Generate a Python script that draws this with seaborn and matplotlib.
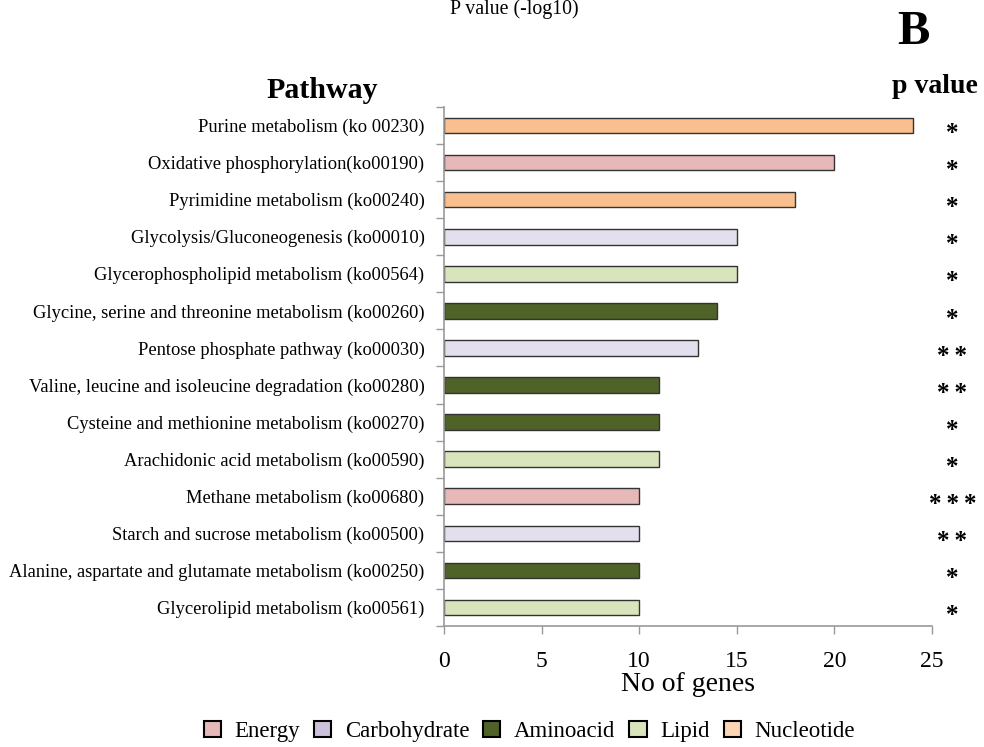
import matplotlib
matplotlib.use("Agg")
import matplotlib.pyplot as plt
import seaborn as sns
import pandas as pd
from matplotlib.patches import Patch

pathways = [
    "Purine metabolism (ko 00230)",
    "Oxidative phosphorylation(ko00190)",
    "Pyrimidine metabolism (ko00240)",
    "Glycolysis/Gluconeogenesis (ko00010)",
    "Glycerophospholipid metabolism (ko00564)",
    "Glycine, serine and threonine metabolism (ko00260)",
    "Pentose phosphate pathway (ko00030)",
    "Valine, leucine and isoleucine degradation (ko00280)",
    "Cysteine and methionine metabolism (ko00270)",
    "Arachidonic acid metabolism (ko00590)",
    "Methane metabolism (ko00680)",
    "Starch and sucrose metabolism (ko00500)",
    "Alanine, aspartate and glutamate metabolism (ko00250)",
    "Glycerolipid metabolism (ko00561)",
]
gene_counts = [24, 20, 18, 15, 15, 14, 13, 11, 11, 11, 10, 10, 10, 10]
classes = ["Nucleotide", "Energy", "Nucleotide", "Carbohydrate", "Lipid",
           "Aminoacid", "Carbohydrate", "Aminoacid", "Aminoacid", "Lipid",
           "Energy", "Carbohydrate", "Aminoacid", "Lipid"]
significance = ["*", "*", "*", "*", "*", "*", "**", "**", "*", "*",
                "***", "**", "*", "*"]

class_order = ["Energy", "Carbohydrate", "Aminoacid", "Lipid", "Nucleotide"]
class_colors = {"Energy": "#E6B8B7", "Carbohydrate": "#E4DFEC",
                "Aminoacid": "#4F6228", "Lipid": "#D8E4BC",
                "Nucleotide": "#FABF8F"}
legend_colors = {"Energy": "#E6B8B7", "Carbohydrate": "#CCC0DA",
                 "Aminoacid": "#4F6228", "Lipid": "#D8E4BC",
                 "Nucleotide": "#FCD5B4"}

df = pd.DataFrame({"Pathway": pathways, "Genes": gene_counts, "Class": classes})

sns.set_style("white")
plt.rcParams["font.family"] = ["Liberation Serif", "DejaVu Serif"]
plt.rcParams.update({"text.color": "black", "axes.labelcolor": "black",
                     "xtick.labelcolor": "black", "ytick.labelcolor": "black"})

fig = plt.figure(figsize=(9.84, 7.47), dpi=100)
ax = fig.add_axes([0.4512, 0.162, 0.4960, 0.6948])

sns.barplot(data=df, x="Genes", y="Pathway", hue="Class", hue_order=class_order,
            palette=class_colors, saturation=1, dodge=False, width=0.42,
            orient="h", edgecolor="#333333", linewidth=1.0, legend=False, ax=ax)

ax.set_xlim(0, 25)
ax.set_ylim(len(pathways) - 0.5, -0.5)
ax.set_xticks([0, 5, 10, 15, 20, 25])
ax.tick_params(axis="x", labelsize=17, length=6, width=1, color="#999999",
               labelcolor="black", direction="out", pad=12, bottom=True)
ax.tick_params(axis="y", which="major", length=0, labelsize=13.3, pad=14,
               labelcolor="black")
ax.set_yticks([i + 0.5 for i in range(-1, len(pathways))], minor=True)
ax.tick_params(axis="y", which="minor", length=6, width=1, color="#999999",
               left=True)
for side in ("top", "right"):
    ax.spines[side].set_visible(False)
for side in ("left", "bottom"):
    ax.spines[side].set_color("#999999")
    ax.spines[side].set_linewidth(1.2)

ax.set_xlabel("No of genes", fontsize=20, labelpad=0, color="black")
ax.set_ylabel("")

# significance stars to the right of the bars, slightly spaced apart
for i, s in enumerate(significance):
    ax.text(1.0415, i + 0.22, "\u2009".join(s), transform=ax.get_yaxis_transform(),
            ha="center", va="center", fontsize=18, fontweight="bold")

fig.text(0.327, 0.879, "Pathway", ha="center", va="center",
         fontsize=21.5, fontweight="bold")
fig.text(0.950, 0.884, "p value", ha="center", va="center",
         fontsize=20, fontweight="bold")
fig.text(0.928, 0.957, "B", ha="center", va="center",
         fontsize=35, fontweight="bold")
fig.text(0.5225, 0.988, "P value (-log10)", ha="center", va="center",
         fontsize=14.3)

handles = [Patch(facecolor=legend_colors[c], edgecolor="black", linewidth=1.5,
                 label=c) for c in class_order]
fig.legend(handles=handles, loc="center", bbox_to_anchor=(0.538, 0.021),
           ncol=5, frameon=False, fontsize=16.5, handlelength=0.75,
           handleheight=0.75, handletextpad=0.6, columnspacing=0.6)

fig.savefig("out.png", dpi=100)
